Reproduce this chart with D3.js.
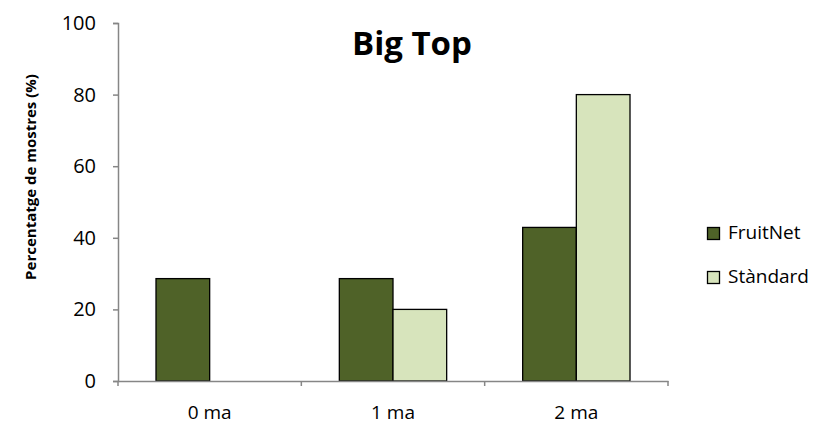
<!DOCTYPE html>
<html><head><meta charset="utf-8">
<script src="https://cdn.jsdelivr.net/npm/d3@7"></script>
<style>body{margin:0;background:#fff}svg{display:block}</style>
</head><body>
<svg id="c" width="814" height="426"></svg>
<script>
const categories = ["0 ma", "1 ma", "2 ma"];
const seriesNames = ["FruitNet", "Stàndard"];
const fruitNet = [28.6, 28.6, 42.9];
const standard = [0, 20, 80];
const yTicks = [0, 20, 40, 60, 80, 100];
const colors = ["#4F6228", "#D7E4BC"];

const svg = d3.select("#c");
const L = 118, R = 668, T = 23, B = 381;
const x0 = d3.scaleBand().domain(categories).range([L, R]).padding(0);
const gap = 38;
const x1 = d3.scaleBand().domain(seriesNames).range([gap, x0.bandwidth() - gap]).padding(0);
const y = d3.scaleLinear().domain([0, 100]).range([B, T]);
const font = "'Open Sans', sans-serif";

// bars
const data = categories.map((c, i) => ({c, vals: [fruitNet[i], standard[i]]}));
const g = svg.append("g");
data.forEach(d => {
  d.vals.forEach((v, j) => {
    if (v <= 0) return;
    g.append("rect")
      .attr("x", x0(d.c) + x1(seriesNames[j]))
      .attr("y", y(v))
      .attr("width", x1.bandwidth())
      .attr("height", y(0) - y(v))
      .attr("fill", colors[j])
      .attr("stroke", "#000").attr("stroke-width", 1.3);
  });
});

// y axis
const yAxis = svg.append("g").attr("transform", `translate(${L},0)`)
  .call(d3.axisLeft(y).tickValues(yTicks).tickSize(5).tickPadding(17));
yAxis.select(".domain").attr("stroke", "#868686").attr("stroke-width", 1.5);
yAxis.selectAll(".tick line").attr("stroke", "#868686").attr("stroke-width", 1.5);
yAxis.selectAll("text").attr("font-family", font).attr("font-size", 20).attr("fill", "#000");

// x axis
const xAxis = svg.append("g").attr("transform", `translate(0,${B})`)
  .call(d3.axisBottom(x0).tickSize(0).tickFormat(""));
xAxis.select(".domain").attr("stroke", "#868686").attr("stroke-width", 1.5);
const xt = [L, ...categories.map(c => x0(c) + x0.bandwidth())];
xAxis.selectAll(".xt").data(xt).enter().append("line")
  .attr("x1", d => d).attr("x2", d => d).attr("y1", 0).attr("y2", 5)
  .attr("stroke", "#868686").attr("stroke-width", 1.5);
svg.selectAll(".xl").data(categories).enter().append("text")
  .attr("x", d => x0(d) + x0.bandwidth() / 2).attr("y", 419)
  .attr("text-anchor", "middle").attr("font-family", font).attr("font-size", 19)
  .text(d => d);

// y title
svg.append("text").attr("transform", "translate(36,177) rotate(-90)")
  .attr("text-anchor", "middle").attr("font-family", font).attr("font-weight", "bold")
  .attr("font-size", 15).text("Percentatge de mostres (%)");

// title
svg.append("text").attr("x", 412).attr("y", 55).attr("text-anchor", "middle")
  .attr("font-family", font).attr("font-weight", "bold").attr("font-size", 33).text("Big Top");

// legend
const leg = svg.append("g");
seriesNames.forEach((s, i) => {
  const yy = 227 + i * 44;
  leg.append("rect").attr("x", 707.5).attr("y", yy + 0.5).attr("width", 12).attr("height", 12)
    .attr("fill", colors[i]).attr("stroke", "#000").attr("stroke-width", 1.3);
  leg.append("text").attr("x", 728).attr("y", yy + 12).attr("font-family", font)
    .attr("font-size", 19).text(s);
});
</script>
</body></html>
